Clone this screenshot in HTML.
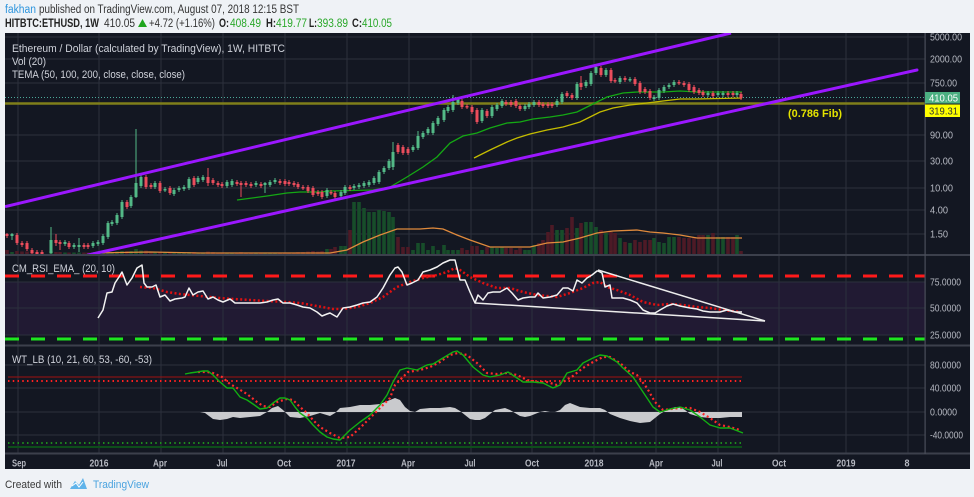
<!DOCTYPE html>
<html><head><meta charset="utf-8"><style>
html,body{margin:0;padding:0;background:#eff2f6;width:974px;height:497px;overflow:hidden}
svg{display:block}
text{font-family:"Liberation Sans",sans-serif}
</style></head><body>
<svg width="974" height="497" viewBox="0 0 974 497" xmlns="http://www.w3.org/2000/svg">
<defs><clipPath id="pc"><rect x="5" y="33" width="920" height="221"/></clipPath></defs>
<rect width="974" height="497" fill="#eff2f6"/>
<!-- header -->
<text x="5" y="13" font-size="11.5" fill="#2e95dd" textLength="31" lengthAdjust="spacingAndGlyphs">fakhan</text>
<text x="39" y="13" font-size="11.5" fill="#333" textLength="260" lengthAdjust="spacingAndGlyphs">published on TradingView.com, August 07, 2018 12:15 BST</text>
<text x="5" y="27" font-size="11.5" font-weight="bold" fill="#222" textLength="94" lengthAdjust="spacingAndGlyphs">HITBTC:ETHUSD, 1W</text>
<text x="104" y="27" font-size="11.5" fill="#333" textLength="31" lengthAdjust="spacingAndGlyphs">410.05</text>
<polygon points="138,27 147,27 142.5,19" fill="#1fa51f"/>
<text x="149" y="27" font-size="11.5" fill="#333" textLength="66" lengthAdjust="spacingAndGlyphs">+4.72 (+1.16%)</text>
<text x="219" y="27" font-size="11.5" font-weight="bold" fill="#222" textLength="10" lengthAdjust="spacingAndGlyphs">O:</text>
<text x="230" y="27" font-size="11.5" fill="#2aa82a" textLength="31" lengthAdjust="spacingAndGlyphs">408.49</text>
<text x="266" y="27" font-size="11.5" font-weight="bold" fill="#222" textLength="10" lengthAdjust="spacingAndGlyphs">H:</text>
<text x="276" y="27" font-size="11.5" fill="#2aa82a" textLength="31" lengthAdjust="spacingAndGlyphs">419.77</text>
<text x="309" y="27" font-size="11.5" font-weight="bold" fill="#222" textLength="8" lengthAdjust="spacingAndGlyphs">L:</text>
<text x="317" y="27" font-size="11.5" fill="#2aa82a" textLength="31" lengthAdjust="spacingAndGlyphs">393.89</text>
<text x="352" y="27" font-size="11.5" font-weight="bold" fill="#222" textLength="10" lengthAdjust="spacingAndGlyphs">C:</text>
<text x="362" y="27" font-size="11.5" fill="#2aa82a" textLength="30" lengthAdjust="spacingAndGlyphs">410.05</text>

<!-- chart background -->
<rect x="5" y="33" width="965" height="436" fill="#131722"/>
<rect x="5" y="282" width="920" height="53" fill="#211a33"/>

<!-- grid -->
<g stroke="#2c303c" stroke-width="1">
<path d="M18 33V453M99 33V453M161 33V453M223 33V453M285 33V453M347 33V453M409 33V453M471 33V453M532 33V453M594 33V453M656 33V453M718 33V453M779 33V453M846 33V453M908 33V453"/>
<path d="M5 37H925M5 59H925M5 83H925M5 135H925M5 161H925M5 188H925M5 210H925M5 234H925"/>
<path d="M5 282H925M5 308H925M5 335H925"/>
<path d="M5 365H925M5 388H925M5 412H925M5 435H925"/>
</g>

<!-- price panel -->
<g clip-path="url(#pc)">
<!-- volume -->
<path fill="#174d2a" d="M10.2 252h3.6V254h-3.6zM49.2 251h3.6V254h-3.6zM63.2 252.5h3.6V254h-3.6zM72.2 252.5h3.6V254h-3.6zM77.2 252.5h3.6V254h-3.6zM91.2 252.5h3.6V254h-3.6zM96.2 252.5h3.6V254h-3.6zM101.2 252h3.6V254h-3.6zM106.2 251h3.6V254h-3.6zM110.2 252h3.6V254h-3.6zM115.2 251.5h3.6V254h-3.6zM120.2 251h3.6V254h-3.6zM129.2 251h3.6V254h-3.6zM134.2 249h3.6V254h-3.6zM139.2 250.5h3.6V254h-3.6zM153.2 252h3.6V254h-3.6zM163.2 252.5h3.6V254h-3.6zM172.2 252.5h3.6V254h-3.6zM177.2 252.5h3.6V254h-3.6zM182.2 252.5h3.6V254h-3.6zM187.2 252h3.6V254h-3.6zM196.2 252.5h3.6V254h-3.6zM201.2 252.5h3.6V254h-3.6zM225.2 252.5h3.6V254h-3.6zM230.2 252.5h3.6V254h-3.6zM254.2 252.5h3.6V254h-3.6zM263.2 252.5h3.6V254h-3.6zM268.2 252.5h3.6V254h-3.6zM273.2 252.5h3.6V254h-3.6zM325.2 249h3.6V254h-3.6zM339.2 246h3.6V254h-3.6zM343.2 246h3.6V254h-3.6zM352.2 202h3.6V254h-3.6zM357.2 202h3.6V254h-3.6zM362.2 208h3.6V254h-3.6zM367.2 212h3.6V254h-3.6zM372.2 212h3.6V254h-3.6zM377.2 210h3.6V254h-3.6zM382.2 211h3.6V254h-3.6zM387.2 212h3.6V254h-3.6zM391.2 217h3.6V254h-3.6zM411.2 250h3.6V254h-3.6zM416.2 243h3.6V254h-3.6zM421.2 243h3.6V254h-3.6zM426.2 250h3.6V254h-3.6zM431.2 246h3.6V254h-3.6zM436.2 250h3.6V254h-3.6zM442.2 245h3.6V254h-3.6zM446.2 250h3.6V254h-3.6zM451.2 250h3.6V254h-3.6zM456.2 250h3.6V254h-3.6zM480.2 250h3.6V254h-3.6zM490.2 247h3.6V254h-3.6zM495.2 248h3.6V254h-3.6zM500.2 247h3.6V254h-3.6zM523.2 250h3.6V254h-3.6zM527.2 250h3.6V254h-3.6zM532.2 245h3.6V254h-3.6zM555.2 230h3.6V254h-3.6zM560.2 230h3.6V254h-3.6zM575.2 228h3.6V254h-3.6zM584.2 222h3.6V254h-3.6zM589.2 222h3.6V254h-3.6zM594.2 227h3.6V254h-3.6zM604.2 233h3.6V254h-3.6zM618.2 238h3.6V254h-3.6zM628.2 243h3.6V254h-3.6zM652.2 238h3.6V254h-3.6zM657.2 242h3.6V254h-3.6zM662.2 243h3.6V254h-3.6zM667.2 237h3.6V254h-3.6zM672.2 237h3.6V254h-3.6zM706.2 235h3.6V254h-3.6zM716.2 237h3.6V254h-3.6zM721.2 237h3.6V254h-3.6zM735.2 235h3.6V254h-3.6z"/>
<path fill="#4d1a26" d="M5.2 250h3.6V254h-3.6zM15.2 251h3.6V254h-3.6zM20.2 251.5h3.6V254h-3.6zM25.2 251.5h3.6V254h-3.6zM30.2 252h3.6V254h-3.6zM35.2 252.5h3.6V254h-3.6zM40.2 252.5h3.6V254h-3.6zM54.2 252h3.6V254h-3.6zM58.2 252h3.6V254h-3.6zM67.2 252.5h3.6V254h-3.6zM82.2 252.5h3.6V254h-3.6zM86.2 252.5h3.6V254h-3.6zM125.2 251h3.6V254h-3.6zM144.2 250.5h3.6V254h-3.6zM149.2 252h3.6V254h-3.6zM158.2 252h3.6V254h-3.6zM168.2 252.5h3.6V254h-3.6zM192.2 252h3.6V254h-3.6zM206.2 251.5h3.6V254h-3.6zM211.2 252h3.6V254h-3.6zM216.2 252.5h3.6V254h-3.6zM220.2 252.5h3.6V254h-3.6zM235.2 252.5h3.6V254h-3.6zM239.2 252h3.6V254h-3.6zM244.2 252.5h3.6V254h-3.6zM249.2 252.5h3.6V254h-3.6zM259.2 252.5h3.6V254h-3.6zM278.2 252.5h3.6V254h-3.6zM283.2 252.5h3.6V254h-3.6zM287.2 252.5h3.6V254h-3.6zM292.2 252.5h3.6V254h-3.6zM296.2 252h3.6V254h-3.6zM301.2 252h3.6V254h-3.6zM306.2 251.5h3.6V254h-3.6zM311.2 251h3.6V254h-3.6zM316.2 251.5h3.6V254h-3.6zM320.2 251h3.6V254h-3.6zM329.2 249h3.6V254h-3.6zM333.2 247h3.6V254h-3.6zM348.2 230h3.6V254h-3.6zM396.2 237h3.6V254h-3.6zM401.2 247h3.6V254h-3.6zM406.2 247h3.6V254h-3.6zM460.2 248h3.6V254h-3.6zM465.2 250h3.6V254h-3.6zM470.2 246h3.6V254h-3.6zM475.2 246h3.6V254h-3.6zM485.2 247h3.6V254h-3.6zM504.2 248h3.6V254h-3.6zM509.2 248h3.6V254h-3.6zM514.2 250h3.6V254h-3.6zM518.2 248h3.6V254h-3.6zM537.2 243h3.6V254h-3.6zM541.2 240h3.6V254h-3.6zM546.2 232h3.6V254h-3.6zM550.2 225h3.6V254h-3.6zM565.2 228h3.6V254h-3.6zM570.2 217h3.6V254h-3.6zM579.2 223h3.6V254h-3.6zM599.2 230h3.6V254h-3.6zM609.2 232h3.6V254h-3.6zM613.2 233h3.6V254h-3.6zM623.2 242h3.6V254h-3.6zM633.2 240h3.6V254h-3.6zM638.2 242h3.6V254h-3.6zM643.2 240h3.6V254h-3.6zM648.2 240h3.6V254h-3.6zM677.2 237h3.6V254h-3.6zM682.2 238h3.6V254h-3.6zM687.2 238h3.6V254h-3.6zM692.2 237h3.6V254h-3.6zM697.2 235h3.6V254h-3.6zM701.2 235h3.6V254h-3.6zM711.2 233h3.6V254h-3.6zM726.2 237h3.6V254h-3.6zM731.2 237h3.6V254h-3.6zM739.2 251h3.6V254h-3.6z"/>
<polyline fill="none" stroke="#e08a3c" stroke-width="1.3" points="93,253 150,252 200,253 250,253 300,253 330,253 347,250 363,242 380,235 397,229 420,229 433,228 443,229 457,235 470,240 490,247 513,247 530,247 547,243 563,242 580,238 597,233 613,231 637,230 650,232 663,233 680,235 697,238 742,238"/>

<!-- horizontal levels -->
<line x1="5" y1="103.5" x2="925" y2="103.5" stroke="#7f7f1a" stroke-width="2.4"/>
<line x1="5" y1="97.5" x2="925" y2="97.5" stroke="#4ba89a" stroke-width="1" stroke-dasharray="1 2"/>

<!-- TEMA lines -->
<polyline fill="none" stroke="#14a814" stroke-width="1.3" points="237,200 267,196 287,193 300,192 320,192 330,191 373,190 390,187 407,177 423,167 437,157 450,143 463,136 477,133 490,128 507,123 520,122 533,119 550,117 563,115 577,112 587,107 597,102 607,97 623,93 637,92 650,92 663,92 680,91 697,92 742,92"/>
<polyline fill="none" stroke="#c4bc00" stroke-width="1.3" points="474,158 490,150 507,142 517,138 530,134 547,130 563,127 580,122 590,117 600,112 613,108 630,105 647,103 663,101 680,99 697,99 742,98"/>

<!-- candles -->
<path stroke="#53b987" stroke-width="1" fill="none" d="M12 233V240M51 227V254M65 240V246M74 243V249M79 238V252M93 241V248M98 240V246M103 234V245M108 221V239M112 220V226M117 213V225M122 200V219M131 195V208M136 129V198M141 175V188M155 181V189M165 187V192M174 188V196M179 186V192M184 185V191M189 177V190M198 176V184M203 175V182M227 180V188M232 179V187M256 181V187M265 182V193M270 180V187M275 178V184M327 188V198M341 190V198M345 185V195M354 184V190M359 183V189M364 181V188M369 180V187M374 176V185M379 170V184M384 166V174M389 159V170M393 142V170M413 145V152M418 131V150M423 131V139M428 127V135M433 121V135M438 116V126M444 108V122M448 105V113M453 95V112M458 97V105M482 108V123M492 105V118M497 103V111M502 99V108M525 104V111M529 102V109M534 100V107M557 99V107M562 92V104M577 82V100M586 80V88M591 71V86M596 65V75M606 68V77M620 76V84M630 77V82M654 95V101M659 88V100M664 85V93M669 83V89M674 80V87M708 91V97M718 91V97M723 91V97M737 91V97"/>
<path stroke="#eb4d5c" stroke-width="1" fill="none" d="M7 233V238M17 233V245M22 241V247M27 241V251M32 248V255M37 250V255M42 250V255M56 234V246M60 240V250M69 241V249M84 243V249M88 243V249M127 200V209M146 175V189M151 183V189M160 181V193M170 186V195M194 176V187M208 168V186M213 178V185M218 181V187M222 182V188M237 180V186M241 181V197M246 181V187M251 182V188M261 182V188M280 179V185M285 179V186M289 180V186M294 181V187M298 182V189M303 185V190M308 185V193M313 186V197M318 190V196M322 190V199M331 190V195M335 191V199M350 185V191M398 143V154M403 145V155M408 147V155M462 99V109M467 104V109M472 105V114M477 108V124M487 109V118M506 100V106M511 100V107M516 99V108M520 104V111M539 100V107M543 102V108M548 102V108M552 102V108M567 91V98M572 93V100M581 76V90M601 66V77M611 68V83M615 78V83M625 76V82M635 77V86M640 81V94M645 87V94M650 89V100M679 80V85M684 81V87M689 82V92M694 85V94M699 88V95M703 90V97M713 91V98M728 91V97M733 91V97M741 92V100"/>
<path fill="#53b987" d="M10.5,234h3v2h-3zM49.5,240h3v13h-3zM63.5,242h3v2h-3zM72.5,245h3v2h-3zM77.5,245h3v2h-3zM91.5,243h3v3h-3zM96.5,242h3v2h-3zM101.5,236h3v7h-3zM106.5,223h3v14h-3zM110.5,222h3v2h-3zM115.5,215h3v8h-3zM120.5,202h3v15h-3zM129.5,197h3v9h-3zM134.5,183h3v14h-3zM139.5,177h3v9h-3zM153.5,183h3v4h-3zM163.5,189h3v1.5h-3zM172.5,190h3v4h-3zM177.5,188h3v2h-3zM182.5,187h3v2h-3zM187.5,179h3v9h-3zM196.5,178h3v4h-3zM201.5,177h3v3h-3zM225.5,182h3v4h-3zM230.5,181h3v4h-3zM254.5,183h3v2h-3zM263.5,183h3v2h-3zM268.5,182h3v3h-3zM273.5,180h3v2h-3zM325.5,190h3v6h-3zM339.5,192h3v4h-3zM343.5,187h3v6h-3zM352.5,186h3v2h-3zM357.5,185h3v2h-3zM362.5,183h3v3h-3zM367.5,182h3v3h-3zM372.5,178h3v5h-3zM377.5,172h3v10h-3zM382.5,168h3v4h-3zM387.5,161h3v7h-3zM391.5,152h3v15h-3zM411.5,147h3v3h-3zM416.5,136h3v12h-3zM421.5,133h3v4h-3zM426.5,129h3v4h-3zM431.5,123h3v10h-3zM436.5,118h3v6h-3zM442.5,110h3v10h-3zM446.5,107h3v4h-3zM451.5,102h3v8h-3zM456.5,99h3v4h-3zM480.5,110h3v11h-3zM490.5,107h3v9h-3zM495.5,105h3v4h-3zM500.5,101h3v5h-3zM523.5,106h3v3h-3zM527.5,104h3v3h-3zM532.5,102h3v3h-3zM555.5,101h3v4h-3zM560.5,94h3v8h-3zM575.5,84h3v14h-3zM584.5,82h3v4h-3zM589.5,73h3v11h-3zM594.5,67h3v6h-3zM604.5,70h3v5h-3zM618.5,78h3v4h-3zM628.5,79h3v1.5h-3zM652.5,97h3v2h-3zM657.5,90h3v8h-3zM662.5,87h3v4h-3zM667.5,85h3v2h-3zM672.5,82h3v3h-3zM706.5,93h3v2h-3zM716.5,93h3v2h-3zM721.5,93h3v2h-3zM735.5,93h3v2h-3z"/>
<path fill="#eb4d5c" d="M5.5,234h3v2h-3zM15.5,235h3v8h-3zM20.5,243h3v2h-3zM25.5,243h3v6h-3zM30.5,250h3v3h-3zM35.5,252h3v2h-3zM40.5,252h3v2h-3zM54.5,240h3v3h-3zM58.5,242h3v2h-3zM67.5,243h3v4h-3zM82.5,245h3v2h-3zM86.5,245h3v2h-3zM125.5,202h3v5h-3zM144.5,177h3v10h-3zM149.5,185h3v2h-3zM158.5,183h3v8h-3zM168.5,188h3v5h-3zM192.5,178h3v7h-3zM206.5,177h3v6h-3zM211.5,180h3v3h-3zM216.5,183h3v2h-3zM220.5,184h3v2h-3zM235.5,182h3v2h-3zM239.5,183h3v2h-3zM244.5,183h3v2h-3zM249.5,184h3v2h-3zM259.5,184h3v2h-3zM278.5,181h3v2h-3zM283.5,181h3v3h-3zM287.5,182h3v2h-3zM292.5,183h3v2h-3zM296.5,184h3v3h-3zM301.5,187h3v1.5h-3zM306.5,187h3v4h-3zM311.5,188h3v7h-3zM316.5,192h3v2h-3zM320.5,192h3v5h-3zM329.5,192h3v1.5h-3zM333.5,193h3v4h-3zM348.5,187h3v2h-3zM396.5,145h3v7h-3zM401.5,147h3v6h-3zM406.5,149h3v4h-3zM460.5,101h3v6h-3zM465.5,106h3v1.5h-3zM470.5,107h3v5h-3zM475.5,110h3v12h-3zM485.5,111h3v5h-3zM504.5,102h3v2h-3zM509.5,102h3v3h-3zM514.5,101h3v5h-3zM518.5,106h3v3h-3zM537.5,102h3v3h-3zM541.5,104h3v2h-3zM546.5,104h3v2h-3zM550.5,104h3v2h-3zM565.5,93h3v3h-3zM570.5,95h3v3h-3zM579.5,83h3v4h-3zM599.5,68h3v7h-3zM609.5,70h3v11h-3zM613.5,80h3v1.5h-3zM623.5,78h3v2h-3zM633.5,79h3v5h-3zM638.5,83h3v9h-3zM643.5,89h3v3h-3zM648.5,91h3v7h-3zM677.5,82h3v1.5h-3zM682.5,83h3v2h-3zM687.5,84h3v6h-3zM692.5,87h3v5h-3zM697.5,90h3v3h-3zM701.5,92h3v3h-3zM711.5,93h3v3h-3zM726.5,93h3v2h-3zM731.5,93h3v2h-3zM739.5,94h3v4h-3z"/>

<!-- channel -->
<line x1="5" y1="206.7" x2="731" y2="33" stroke="#9b17ff" stroke-width="3"/>
<line x1="88" y1="255" x2="917" y2="70" stroke="#9b17ff" stroke-width="3" stroke-linecap="round"/>
</g>

<text x="788" y="117" font-size="11" font-weight="bold" fill="#e3e300" textLength="54" lengthAdjust="spacingAndGlyphs">(0.786 Fib)</text>

<!-- legends -->
<g font-size="11" fill="#cfd2da">
<text x="12" y="52" textLength="273" lengthAdjust="spacingAndGlyphs">Ethereum / Dollar (calculated by TradingView), 1W, HITBTC</text>
<text x="12" y="65" textLength="34" lengthAdjust="spacingAndGlyphs">Vol (20)</text>
<text x="12" y="78" textLength="173" lengthAdjust="spacingAndGlyphs">TEMA (50, 100, 200, close, close, close)</text>
<text x="12" y="272" textLength="103" lengthAdjust="spacingAndGlyphs">CM_RSI_EMA_ (20, 10)</text>
<text x="12" y="363" textLength="140" lengthAdjust="spacingAndGlyphs">WT_LB (10, 21, 60, 53, -60, -53)</text>
</g>

<!-- RSI panel -->
<line x1="5" y1="276" x2="925" y2="276" stroke="#ff1a1a" stroke-width="3" stroke-dasharray="14 12"/>
<line x1="5" y1="339" x2="925" y2="339" stroke="#1ee61e" stroke-width="3" stroke-dasharray="14 12"/>
<polyline fill="none" stroke="#e01010" stroke-width="2.5" stroke-dasharray="2 2.4" points="140,287 153,288 167,292 180,294 200,296 220,298 233,299 267,301 287,302 300,303 317,306 333,309 343,309 357,307 370,303 383,297 397,287 410,282 423,278 437,275 447,272 455,268 460,270 470,277 483,283 497,288 510,288 523,292 537,295 557,297 570,293 583,288 593,283 600,282 607,287 617,290 630,295 643,302 657,305 670,304 683,305 697,307 710,308 723,310 740,312"/>
<polyline fill="none" stroke="#f2f2f2" stroke-width="1.5" stroke-linejoin="round" points="98,318 103,310 107,293 112,292 115,283 119,277 122,272 127,285 132,278 137,268 142,265 144,283 147,287 152,287 156,285 160,297 165,295 170,301 175,299 182,298 185,297 189,288 193,295 198,292 203,291 208,299 213,297 218,300 223,302 230,299 235,303 240,303 247,303 253,303 260,303 267,302 273,300 278,299 283,303 290,303 297,305 303,307 310,308 317,312 322,316 327,314 330,313 337,317 343,308 350,307 357,305 363,303 370,302 377,297 383,288 390,275 395,268 398,267 402,272 407,285 412,283 418,280 423,272 430,270 437,267 443,263 450,260 455,260 460,280 465,280 470,292 475,303 478,295 483,300 488,293 493,292 500,292 507,288 512,293 518,300 523,298 530,297 535,297 538,293 543,298 550,297 557,295 563,288 568,288 573,291 577,280 582,283 587,278 592,275 597,271 598,271 602,273 605,287 610,285 612,298 617,298 623,298 630,300 637,303 643,310 650,313 655,313 660,310 667,306 673,304 680,306 685,307 690,308 697,309 703,311 710,312 720,312 727,310 735,312 742,312"/>
<line x1="598" y1="270" x2="765" y2="321" stroke="#ececec" stroke-width="1.5"/>
<line x1="475" y1="303" x2="765" y2="321" stroke="#ececec" stroke-width="1.5"/>

<!-- WT panel -->
<line x1="8" y1="377" x2="742" y2="377" stroke="#a01010" stroke-width="1"/>
<line x1="8" y1="381" x2="742" y2="381" stroke="#ff2020" stroke-width="2" stroke-dasharray="1.5 3.25"/>
<line x1="8" y1="443" x2="742" y2="443" stroke="#1e8a1e" stroke-width="2" stroke-dasharray="1.5 3.25"/>
<line x1="8" y1="447" x2="742" y2="447" stroke="#0d4d1a" stroke-width="2"/>
<polygon fill="#c9cacd" points="200,412 205,413 213,419 220,420 227,419 233,417 240,418 250,417 260,416 267,412 272,408 278,406 283,410 290,417 300,418 310,416 320,413 330,416 335,413 340,408 350,407 360,405 370,405 380,404 390,400 395,398 400,400 405,407 410,411 415,412 420,409 430,408 440,408 450,407 455,408 460,411 465,415 470,419 475,420 480,420 485,418 490,414 495,410 500,409 505,408 510,410 515,413 520,416 525,417 530,416 535,414 540,412 545,411 550,412 555,412 560,410 565,405 570,403 575,405 580,407 590,408 600,408 605,410 610,414 620,418 630,421 640,423 650,422 655,418 660,414 665,411 670,409 675,407 680,407 685,410 690,414 700,417 710,418 720,418 730,417 742,417 742,412"/>
<polyline fill="none" stroke="#ff2a2a" stroke-width="2.2" stroke-dasharray="2 2.75" points="198,372 207,372 213,373 222,377 230,384 237,388 247,394 257,402 263,406 270,407 277,402 287,399 293,400 300,407 307,413 313,420 320,427 330,433 340,438 350,437 360,428 373,415 383,405 390,398 395,385 400,380 408,372 420,370 430,367 440,362 450,355 458,353 467,355 477,363 487,373 497,374 507,373 517,375 527,380 537,382 547,382 557,385 563,382 573,376 583,368 593,362 603,357 610,357 620,363 630,372 637,375 647,388 655,402 663,410 680,408 690,408 700,412 710,418 720,425 730,427 740,430"/>
<polyline fill="none" stroke="#12b012" stroke-width="1.4" stroke-linejoin="round" points="185,374 190,373 197,372 203,371 208,371 213,375 220,382 227,388 233,388 240,397 247,400 253,404 260,409 267,408 273,403 280,398 285,398 290,400 295,407 300,413 307,418 313,425 320,432 327,437 333,439 340,440 347,433 350,430 360,422 370,415 380,405 387,395 393,382 400,370 407,368 417,370 427,365 433,364 443,358 453,352 457,351 463,355 473,367 483,375 490,377 500,375 508,372 517,378 523,382 533,382 543,383 553,388 560,385 567,373 577,370 583,363 593,358 600,355 607,356 617,362 623,368 633,377 643,392 653,407 660,412 670,409 680,407 690,410 700,417 710,425 720,428 730,428 743,433"/>

<!-- separators -->
<rect x="5" y="254" width="965" height="2" fill="#3c404c"/>
<rect x="5" y="344.5" width="965" height="2" fill="#3c404c"/>
<rect x="5" y="452.5" width="965" height="2" fill="#3c404c"/>
<rect x="924.5" y="33" width="1.2" height="421" fill="#4a4e5a"/>

<!-- price axis -->
<g font-size="10.5" fill="#b6b9c2">
<text x="930" y="40.5" textLength="32" lengthAdjust="spacingAndGlyphs">5000.00</text>
<text x="930" y="62.5" textLength="32" lengthAdjust="spacingAndGlyphs">2000.00</text>
<text x="930" y="86.5" textLength="27" lengthAdjust="spacingAndGlyphs">750.00</text>
<text x="930" y="138.5" textLength="23" lengthAdjust="spacingAndGlyphs">90.00</text>
<text x="930" y="164.5" textLength="23" lengthAdjust="spacingAndGlyphs">30.00</text>
<text x="930" y="191.5" textLength="23" lengthAdjust="spacingAndGlyphs">10.00</text>
<text x="930" y="213.5" textLength="18" lengthAdjust="spacingAndGlyphs">4.00</text>
<text x="930" y="237.5" textLength="18" lengthAdjust="spacingAndGlyphs">1.50</text>
<text x="930" y="285.5" textLength="31" lengthAdjust="spacingAndGlyphs">75.0000</text>
<text x="930" y="311.5" textLength="31" lengthAdjust="spacingAndGlyphs">50.0000</text>
<text x="930" y="338.5" textLength="31" lengthAdjust="spacingAndGlyphs">25.0000</text>
<text x="930" y="368.5" textLength="31" lengthAdjust="spacingAndGlyphs">80.0000</text>
<text x="930" y="391.5" textLength="31" lengthAdjust="spacingAndGlyphs">40.0000</text>
<text x="930" y="415.5" textLength="27" lengthAdjust="spacingAndGlyphs">0.0000</text>
<text x="930" y="438.5" textLength="33" lengthAdjust="spacingAndGlyphs">-40.0000</text>
</g>
<rect x="925" y="92" width="35" height="11.5" fill="#4caf82"/>
<text x="929" y="101.5" font-size="10.5" fill="#ffffff" textLength="29" lengthAdjust="spacingAndGlyphs">410.05</text>
<rect x="925" y="104.5" width="35" height="12.5" fill="#ffff00"/>
<text x="929" y="114.5" font-size="10.5" fill="#333" textLength="29" lengthAdjust="spacingAndGlyphs">319.31</text>

<!-- time axis -->
<g font-size="10" font-weight="bold" fill="#b6b9c2">
<text x="12" y="466.5" textLength="14" lengthAdjust="spacingAndGlyphs">Sep</text>
<text x="89.5" y="466.5" textLength="19" lengthAdjust="spacingAndGlyphs">2016</text>
<text x="153" y="466.5" textLength="14" lengthAdjust="spacingAndGlyphs">Apr</text>
<text x="216.5" y="466.5" textLength="11" lengthAdjust="spacingAndGlyphs">Jul</text>
<text x="277" y="466.5" textLength="14" lengthAdjust="spacingAndGlyphs">Oct</text>
<text x="336.5" y="466.5" textLength="19" lengthAdjust="spacingAndGlyphs">2017</text>
<text x="401" y="466.5" textLength="14" lengthAdjust="spacingAndGlyphs">Apr</text>
<text x="464.5" y="466.5" textLength="11" lengthAdjust="spacingAndGlyphs">Jul</text>
<text x="525" y="466.5" textLength="14" lengthAdjust="spacingAndGlyphs">Oct</text>
<text x="584.5" y="466.5" textLength="19" lengthAdjust="spacingAndGlyphs">2018</text>
<text x="649" y="466.5" textLength="14" lengthAdjust="spacingAndGlyphs">Apr</text>
<text x="711.5" y="466.5" textLength="11" lengthAdjust="spacingAndGlyphs">Jul</text>
<text x="772" y="466.5" textLength="14" lengthAdjust="spacingAndGlyphs">Oct</text>
<text x="836.5" y="466.5" textLength="19" lengthAdjust="spacingAndGlyphs">2019</text>
<text x="904.5" y="466.5" textLength="5" lengthAdjust="spacingAndGlyphs">8</text>
</g>

<!-- footer -->
<text x="5" y="488" font-size="11" fill="#3a3a3a" textLength="57" lengthAdjust="spacingAndGlyphs">Created with</text>
<path d="M70 489 L75 481 L79 485 L83 478 L87 489 Z" fill="#5fb3ea"/>
<path d="M72 486 L76 483 L79 487 L83 482" fill="none" stroke="#ffffff" stroke-width="1"/>
<text x="93" y="488" font-size="11" fill="#4aa3df" textLength="56" lengthAdjust="spacingAndGlyphs">TradingView</text>
</svg>
</body></html>
